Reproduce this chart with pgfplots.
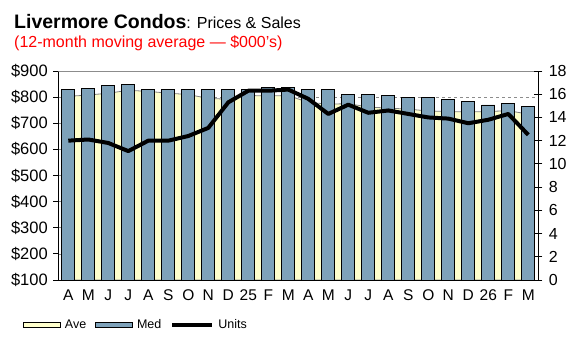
\documentclass[border=0pt]{standalone}
\usepackage{pgfplots}
\pgfplotsset{compat=1.18}
\usepackage{fontspec}
\setmainfont{Liberation Sans}
\definecolor{avefill}{HTML}{FFFFCC}
\definecolor{medfill}{HTML}{7EA2BA}
\definecolor{gridgray}{HTML}{8C8C8C}
\pgfplotstableread{
idx ave med units
0  803 828 12.0
1  808 832 12.1
2  815 846 11.8
3  826 850 11.1
4  822 831 12.0
5  815 828 12.0
6  810 828 12.4
7  795 828 13.1
8  792 831 15.3
9  806 831 16.3
10 805 838 16.3
11 806 837 16.4
12 780 831 15.6
13 773 831 14.3
14 775 811 15.1
15 762 811 14.4
16 758 808 14.6
17 754 797 14.3
18 747 800 14.0
19 745 790 13.9
20 743 782 13.5
21 745 770 13.8
22 748 774 14.3
23 735 763 12.5
}\datatable
\begin{document}
\begin{tikzpicture}[x=1pt,y=1pt]
\useasboundingbox (0,0) rectangle (577,344);
\node[anchor=base west, inner sep=0pt] at (14,315) {\fontsize{19.5}{22}\selectfont\bfseries Livermore Condos\fontsize{16}{18}\selectfont\mdseries: Prices \& Sales};
\node[anchor=base west, inner sep=0pt, text=red] at (14,296.5) {\fontsize{16}{18}\selectfont(12-month moving average --- \$000's)};
\begin{axis}[
  at={(58.3pt,64pt)}, anchor=south west, scale only axis,
  width=480pt, height=209pt,
  xmin=-0.5, xmax=23.5, ymin=100, ymax=900,
  axis x line*=bottom, axis y line*=left,
  axis line style={black, line width=0.8pt},
  xtick={0,...,23},
  xticklabels={A,M,J,J,A,S,O,N,D,25,F,M,A,M,J,J,A,S,O,N,D,26,F,M},
  xtick style={draw=none},
  extra x ticks={-0.5,0.5,...,23.5},
  extra x tick labels={},
  extra x tick style={tick style={draw=black, line width=0.8pt}, major tick length=5pt, tick align=outside},
  ytick={100,200,...,900},
  yticklabels={\$100,\$200,\$300,\$400,\$500,\$600,\$700,\$800,\$900},
  ytick style={black, line width=0.8pt},
  major tick length=5pt, tick align=outside,
  ymajorgrids, grid style={gridgray, dashed, line width=0.6pt},
  ticklabel style={font=\fontsize{15.5}{16}\selectfont},
  yticklabel style={font=\fontsize{16.5}{17}\selectfont, xshift=-2pt},
  xticklabel style={yshift=-1pt},
  clip=true,
]
\addplot[fill=avefill, draw=gray, line width=0.8pt] table[x=idx, y=ave] {\datatable} \closedcycle;
\addplot[ybar, bar width=13pt, fill=medfill, draw=black, line width=0.9pt] table[x=idx, y=med] {\datatable};
\draw[gridgray, line width=0.8pt] (rel axis cs:0,1) -- (rel axis cs:1,1);
\end{axis}
\begin{axis}[
  at={(58.3pt,64pt)}, anchor=south west, scale only axis,
  width=480pt, height=209pt,
  xmin=-0.5, xmax=23.5, ymin=0, ymax=18,
  axis x line=none, axis y line*=right,
  axis line style={black, line width=0.8pt},
  ytick={0,2,...,18},
  ytick style={black, line width=0.8pt},
  major tick length=8pt, tick align=center,
  /pgf/number format/assume math mode=true,
  ticklabel style={font=\fontsize{16}{17}\selectfont},
  yticklabel style={xshift=3pt},
  legend columns=3,
  legend style={at={(-0.08,-0.215)}, anchor=west, draw=none, fill=none,
    font=\fontsize{12.5}{14}\selectfont, column sep=0pt,
    nodes={inner sep=2pt},
    /tikz/every odd column/.append style={column sep=2pt},
    /tikz/every even column/.append style={column sep=7pt}},
  legend image code/.code={\draw[#1] (0pt,-2.5pt) rectangle (37pt,2.5pt);},
]
\addlegendimage{fill=avefill, draw=black, line width=0.8pt}
\addlegendentry{Ave}
\addlegendimage{fill=medfill, draw=black, line width=0.8pt}
\addlegendentry{Med}
\addlegendimage{legend image code/.code={\draw[black, line width=4pt] (0pt,0pt) -- (40pt,0pt);}}
\addlegendentry{Units}
\addplot[black, line width=4pt, line join=round, forget plot] table[x=idx, y=units] {\datatable};
\end{axis}
\end{tikzpicture}
\end{document}
